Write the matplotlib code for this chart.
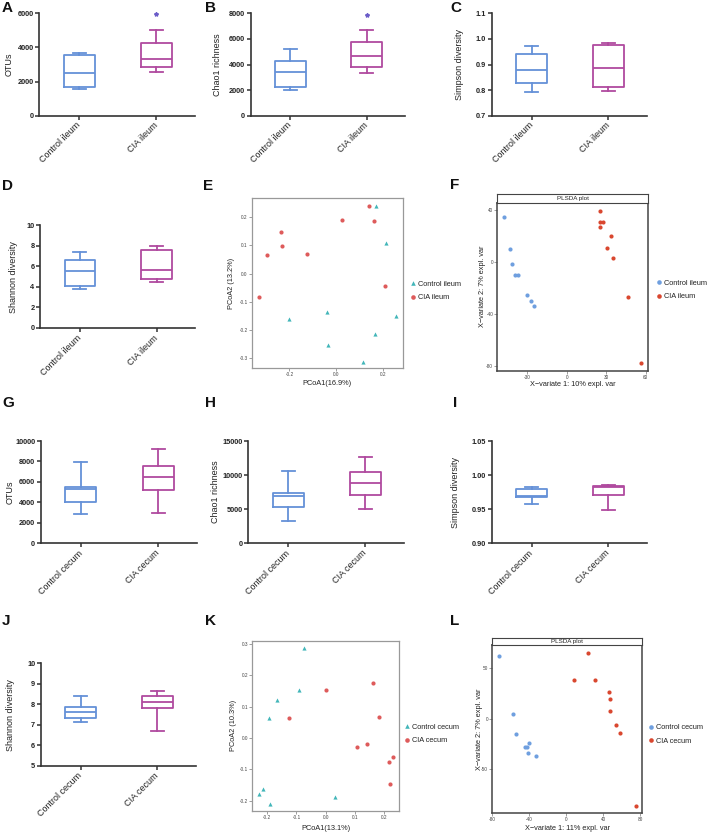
import numpy as np
import matplotlib
matplotlib.use('Agg')
from matplotlib import pyplot as plt
from matplotlib.lines import Line2D
from matplotlib.ticker import FormatStrFormatter

plt.rcParams['font.family'] = ['Liberation Sans', 'DejaVu Sans']

# ---- alpha diversity, five-number summaries: min, Q1, median, Q3, max ----
ileum_groups = ['Control ileum', 'CIA ileum']
cecum_groups = ['Control cecum', 'CIA cecum']

otus_ileum_ctrl = [1583, 1700, 2482, 3537, 3655]
otus_ileum_cia = [2560, 2873, 3342, 4280, 5023]
chao1_ileum_ctrl = [1980, 2267, 3414, 4300, 5212]
chao1_ileum_cia = [3361, 3831, 4690, 5785, 6697]
simpson_ileum_ctrl = [0.791, 0.828, 0.880, 0.942, 0.972]
simpson_ileum_cia = [0.798, 0.813, 0.885, 0.975, 0.985]
shannon_ileum_ctrl = [3.80, 4.12, 5.58, 6.62, 7.40]
shannon_ileum_cia = [4.48, 4.74, 5.68, 7.63, 8.02]

otus_cecum_ctrl = [2834, 4072, 5277, 5537, 7915]
otus_cecum_cia = [2997, 5212, 6482, 7524, 9218]
chao1_cecum_ctrl = [3225, 5375, 6889, 7329, 10651]
chao1_cecum_cia = [4984, 7036, 8844, 10456, 12655]
simpson_cecum_ctrl = [0.958, 0.968, 0.969, 0.979, 0.983]
simpson_cecum_cia = [0.949, 0.971, 0.982, 0.984, 0.985]
shannon_cecum_ctrl = [7.16, 7.32, 7.63, 7.89, 8.43]
shannon_cecum_cia = [6.72, 7.81, 8.12, 8.41, 8.65]

star_otus_ileum = 5961
star_chao1_ileum = 7870

# ---- PCoA (E, K) ----
pcoa_ileum_ctrl_x = [0.172, 0.215, 0.258, -0.202, -0.039, 0.166, -0.036, 0.116]
pcoa_ileum_ctrl_y = [0.241, 0.108, -0.149, -0.162, -0.135, -0.214, -0.251, -0.311]
pcoa_ileum_cia_x = [0.142, 0.027, 0.162, -0.238, -0.232, -0.295, -0.125, 0.209, -0.331]
pcoa_ileum_cia_y = [0.241, 0.189, 0.188, 0.147, 0.099, 0.066, 0.071, -0.045, -0.082]

pcoa_cecum_ctrl_x = [-0.074, -0.090, -0.165, -0.193, -0.216, -0.228, -0.192, 0.032]
pcoa_cecum_ctrl_y = [0.286, 0.153, 0.121, 0.065, -0.161, -0.178, -0.209, -0.188]
pcoa_cecum_cia_x = [0.000, -0.126, 0.161, 0.181, 0.108, 0.143, 0.232, 0.217, 0.219]
pcoa_cecum_cia_y = [0.152, 0.063, 0.174, 0.066, -0.030, -0.020, -0.059, -0.076, -0.146]

# ---- PLS-DA (F, L) ----
plsda_ileum_ctrl_x = [-47.9, -43.6, -42.0, -39.8, -37.2, -30.1, -27.6, -25.1]
plsda_ileum_ctrl_y = [34.6, 10.0, -1.5, -9.8, -9.8, -25.4, -29.5, -33.6]
plsda_ileum_cia_x = [25.2, 25.2, 27.2, 25.2, 33.8, 30.8, 34.9, 46.5, 56.7]
plsda_ileum_cia_y = [39.7, 31.2, 31.2, 27.4, 20.5, 10.8, 3.1, -26.5, -77.7]

plsda_cecum_ctrl_x = [-72.4, -57.7, -54.4, -40.7, -42.2, -45.0, -41.8, -32.4]
plsda_cecum_ctrl_y = [61.9, 4.3, -15.2, -23.8, -27.8, -28.5, -33.8, -37.1]
plsda_cecum_cia_x = [23.8, 9.0, 31.4, 46.8, 47.9, 47.6, 54.1, 58.0, 75.7]
plsda_cecum_cia_y = [64.9, 38.1, 38.7, 26.2, 19.2, 7.9, -6.6, -14.2, -87.1]

BLUE = '#6591d8'
MAGENTA = '#b04a9f'
STAR = '#6b5cc8'
TEAL = '#42b6b9'
RED = '#de5b5b'
PLS_BLUE = '#6f9fdf'
PLS_RED = '#d9472f'

W, H = 708, 833
fig = plt.figure(figsize=(W / 100, H / 100), dpi=100)


def rect(l, t, r, b):
    return [l / W, 1 - b / H, (r - l) / W, (b - t) / H]


def set_ylabel_px(ax, l, r, center_px, half=4.5):
    ax.yaxis.set_label_coords((center_px + half - l) / (r - l), 0.5)


def set_xlabel_px(ax, t, b, center_px, half=3.7):
    ax.xaxis.set_label_coords(0.5, (b - (center_px - half)) / (b - t))


def box_panel(box, groups, ctrl, cia, ylim, yticks, ylabel, fmt, ylab_px, star=None):
    l, t, r, b = box
    ax = fig.add_axes(rect(l, t, r, b))
    stats = []
    for name, v in zip(groups, [ctrl, cia]):
        stats.append(dict(label=name, whislo=v[0], q1=v[1], med=v[2],
                          q3=v[3], whishi=v[4], fliers=[]))
    bp = ax.bxp(stats, positions=[0, 1], widths=0.4, capwidths=0.17, showfliers=False)
    for i, c in enumerate([BLUE, MAGENTA]):
        bp['boxes'][i].set(color=c, lw=1.3)
        bp['medians'][i].set(color=c, lw=1.3)
        for w in bp['whiskers'][2 * i:2 * i + 2]:
            w.set(color=c, lw=1.3)
        for cp in bp['caps'][2 * i:2 * i + 2]:
            cp.set(color=c, lw=1.3)
    if star is not None:
        ax.plot([1], [star], marker='*', ms=3, color=STAR, mec=STAR, clip_on=False)
    ax.set_xlim(-0.52, 1.5)
    ax.set_ylim(*ylim)
    ax.set_yticks(yticks)
    ax.yaxis.set_major_formatter(FormatStrFormatter(fmt))
    ax.set_xticks([0, 1])
    ax.set_xticklabels(groups, rotation=45, ha='right', va='center',
                       rotation_mode='anchor', fontsize=6.5, color='#222')
    ax.spines[['top', 'right']].set_visible(False)
    for s in ['left', 'bottom']:
        ax.spines[s].set_color('#333')
        ax.spines[s].set_linewidth(1.2)
    ax.tick_params(axis='y', length=3, width=1.1, pad=1, labelsize=5.3,
                   color='#333', labelcolor='#222')
    ax.tick_params(axis='x', length=3, width=1.1, pad=3, color='#333')
    for lbl in ax.get_yticklabels():
        lbl.set_fontweight('bold')
    ax.set_ylabel(ylabel, fontsize=6.5, color='#222')
    set_ylabel_px(ax, l, r, ylab_px)
    return ax


def scatter_panel(box, cx, cy, ax_, ay_, xlim, ylim, xticks, yticks, xlabel, ylabel,
                  ylab_px, xlab_px, colors, ctrl_marker, legend_labels, leg_px, strip=False):
    l, t, r, b = box
    ax = fig.add_axes(rect(l, t, r, b))
    ax.scatter(cx, cy, marker=ctrl_marker, s=9, color=colors[0], lw=0, zorder=3)
    ax.scatter(ax_, ay_, marker='o', s=9, color=colors[1], lw=0, zorder=3)
    ax.set_xlim(*xlim)
    ax.set_ylim(*ylim)
    ax.set_xticks(xticks)
    ax.set_yticks(yticks)
    if strip:
        ax.xaxis.set_major_formatter(FormatStrFormatter('%d'))
        ax.yaxis.set_major_formatter(FormatStrFormatter('%d'))
        edge, elw = '#444', 1.1
    else:
        ax.xaxis.set_major_formatter(FormatStrFormatter('%.1f'))
        ax.yaxis.set_major_formatter(FormatStrFormatter('%.1f'))
        edge, elw = '#999', 0.9
    for s in ax.spines.values():
        s.set_color(edge)
        s.set_linewidth(elw)
    ax.tick_params(length=2, width=0.5, pad=1, labelsize=3.4, color='#777', labelcolor='#444')
    ax.set_xlabel(xlabel, fontsize=5.3, color='#222')
    ax.set_ylabel(ylabel, fontsize=5.3, color='#222')
    set_ylabel_px(ax, l, r, ylab_px, half=3.7)
    set_xlabel_px(ax, t, b, xlab_px)
    if strip:
        sax = fig.add_axes(rect(l, strip[0], r, strip[1]))
        sax.set_xticks([])
        sax.set_yticks([])
        sax.set_facecolor('white')
        for s in sax.spines.values():
            s.set_color('#444')
            s.set_linewidth(0.8)
        sax.text(0.5, 0.5, 'PLSDA plot', ha='center', va='center', fontsize=4.5,
                 color='#222', transform=sax.transAxes)
    handles = [Line2D([], [], ls='', marker=ctrl_marker, ms=3.3, color=colors[0], mew=0),
               Line2D([], [], ls='', marker='o', ms=3.3, color=colors[1], mew=0)]
    fig.legend(handles, legend_labels, loc='center left',
               bbox_to_anchor=(leg_px[0] / W, 1 - leg_px[1] / H), frameon=False,
               fontsize=5.3, borderpad=0, borderaxespad=0, handlelength=0.8,
               handletextpad=0.35, labelspacing=0.85, labelcolor='#222')
    return ax


# Row 1: A, B, C
box_panel((39.3, 13.3, 195, 115.7), ileum_groups, otus_ileum_ctrl, otus_ileum_cia,
          (0, 6000), [0, 2000, 4000, 6000], 'OTUs', '%d', 9, star=star_otus_ileum)
box_panel((250.7, 13.3, 404.7, 115.7), ileum_groups, chao1_ileum_ctrl, chao1_ileum_cia,
          (0, 8000), [0, 2000, 4000, 6000, 8000], 'Chao1 richness', '%d', 218,
          star=star_chao1_ileum)
box_panel((491.7, 13.3, 646.7, 115.7), ileum_groups, simpson_ileum_ctrl, simpson_ileum_cia,
          (0.7, 1.1), [0.7, 0.8, 0.9, 1.0, 1.1], 'Simpson diversity', '%.1f', 460)

# Row 2: D, E, F
box_panel((40, 225.3, 195, 328), ileum_groups, shannon_ileum_ctrl, shannon_ileum_cia,
          (0, 10), [0, 2, 4, 6, 8, 10], 'Shannon diversity', '%d', 13)
scatter_panel((251.7, 198.3, 402.7, 368.3), pcoa_ileum_ctrl_x, pcoa_ileum_ctrl_y,
              pcoa_ileum_cia_x, pcoa_ileum_cia_y, (-0.362, 0.286), (-0.335, 0.267),
              [-0.2, 0.0, 0.2], [-0.3, -0.2, -0.1, 0.0, 0.1, 0.2],
              'PCoA1(16.9%)', 'PCoA2 (13.2%)', 231.7, 383.3, (TEAL, RED), '^',
              ileum_groups, (410, 291))
scatter_panel((497.3, 202.7, 648.3, 370.7), plsda_ileum_ctrl_x, plsda_ileum_ctrl_y,
              plsda_ileum_cia_x, plsda_ileum_cia_y, (-53, 62), (-83.4, 45.8),
              [-30, 0, 30, 60], [-80, -40, 0, 40],
              'X\u2212variate 1: 10% expl. var', 'X\u2212variate 2: 7% expl. var',
              482.3, 384.3, (PLS_BLUE, PLS_RED), 'o', ileum_groups, (656, 290),
              strip=(194.3, 202.7))

# Row 3: G, H, I
box_panel((40.7, 441, 196.7, 543.3), cecum_groups, otus_cecum_ctrl, otus_cecum_cia,
          (0, 10000), [0, 2000, 4000, 6000, 8000, 10000], 'OTUs', '%d', 10)
box_panel((248.3, 441, 404, 543.3), cecum_groups, chao1_cecum_ctrl, chao1_cecum_cia,
          (0, 15000), [0, 5000, 10000, 15000], 'Chao1 richness', '%d', 215)
box_panel((491.7, 441, 646.7, 543.3), cecum_groups, simpson_cecum_ctrl, simpson_cecum_cia,
          (0.90, 1.05), [0.90, 0.95, 1.00, 1.05], 'Simpson diversity', '%.2f', 455)

# Row 4: J, K, L
box_panel((40.7, 663.3, 195.7, 766), cecum_groups, shannon_cecum_ctrl, shannon_cecum_cia,
          (5, 10), [5, 6, 7, 8, 9, 10], 'Shannon diversity', '%d', 11)
scatter_panel((252.3, 640.7, 399.3, 810.7), pcoa_cecum_ctrl_x, pcoa_cecum_ctrl_y,
              pcoa_cecum_cia_x, pcoa_cecum_cia_y, (-0.251, 0.252), (-0.2315, 0.310),
              [-0.2, -0.1, 0.0, 0.1, 0.2], [-0.2, -0.1, 0.0, 0.1, 0.2, 0.3],
              'PCoA1(13.1%)', 'PCoA2 (10.3%)', 233.3, 828.3, (TEAL, RED), '^',
              cecum_groups, (404, 734))
scatter_panel((492.3, 645.3, 642.3, 813.3), plsda_cecum_ctrl_x, plsda_cecum_ctrl_y,
              plsda_cecum_cia_x, plsda_cecum_cia_y, (-79.7, 82.5), (-94, 72.9),
              [-80, -40, 0, 40, 80], [-50, 0, 50],
              'X\u2212variate 1: 11% expl. var', 'X\u2212variate 2: 7% expl. var',
              479, 829, (PLS_BLUE, PLS_RED), 'o', cecum_groups, (647.7, 734.3),
              strip=(637.7, 645.3))

# panel letters
letters = ['A', 'B', 'C', 'D', 'E', 'F', 'G', 'H', 'I', 'J', 'K', 'L']
letter_pos = [(2, 1), (205, 1), (450, 1), (2, 179), (203, 179), (450, 178),
              (2, 396), (205, 396), (453, 396), (2, 614), (205, 614), (450, 614)]
for ch, (x, y) in zip(letters, letter_pos):
    fig.text(x / W, 1 - y / H, ch, ha='left', va='top', fontsize=11,
             fontweight='bold', color='#111')

fig.savefig('out.png', dpi=100, facecolor='white')
